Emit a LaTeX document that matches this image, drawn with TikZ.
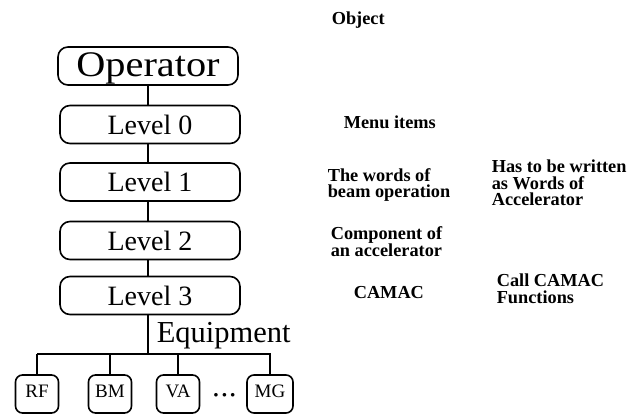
\documentclass[tikz,border=0pt]{standalone}
\usepackage{fontspec}
\setmainfont{Liberation Serif}
\begin{document}
\begin{tikzpicture}[x=1pt,y=-1pt,
  line width=1.6pt,
  bigbox/.style={draw, rounded corners=10pt, minimum width=180pt, minimum height=38pt, inner sep=0pt, font=\fontsize{28}{28}\selectfont},
  smallbox/.style={draw, rounded corners=7pt, minimum width=43pt, minimum height=38pt, inner sep=0pt, text height=13pt, text depth=6pt, font=\fontsize{19}{19}\selectfont},
  note/.style={anchor=west, align=left, inner sep=0pt, font=\fontsize{18.3}{16.5}\selectfont\bfseries},
  conn/.style={line width=1.6pt}
]
\useasboundingbox (0,0) rectangle (638,414);

\node[bigbox, font=\fontsize{36}{36}\selectfont, text height=27pt, text depth=5pt] (op) at (148,66) {\scalebox{1.12}[1]{Operator}};
\node[bigbox] (l0) at (150,124.5) {Level 0};
\node[bigbox] (l1) at (150,182) {Level 1};
\node[bigbox] (l2) at (150,240.5) {Level 2};
\node[bigbox] (l3) at (150,295.5) {Level 3};

\draw[conn] (op.south -| 148,0) -- (l0.north -| 148,0);
\draw[conn] (l0.south -| 148,0) -- (l1.north -| 148,0);
\draw[conn] (l1.south -| 148,0) -- (l2.north -| 148,0);
\draw[conn] (l2.south -| 148,0) -- (l3.north -| 148,0);

\node[anchor=base west, inner sep=0pt, font=\fontsize{30.5}{30.5}\selectfont] (eq) at (156,343) {Equipment};

\coordinate (bus) at (148,354);
\coordinate (busL) at (37,354);
\coordinate (busR) at (271,354);
\draw[conn] (l3.south -| bus) -- (bus);
\draw[conn] (busL) -- (busR);

\node[smallbox] (rf) at (37,394) {RF};
\node[smallbox] (bm) at (110,394) {BM};
\node[smallbox] (va) at (178,394) {VA};
\node[smallbox, minimum width=46pt] (mg) at (270,394) {MG};
\node[inner sep=0pt, font=\fontsize{22}{22}\selectfont\bfseries] (dots) at (224.5,398) {·\kern1pt·\kern1pt·};

\draw[conn] (rf.north) -- (rf.north |- busL);
\draw[conn] (bm.north) -- (bm.north |- busL);
\draw[conn] (va.north) -- (va.north |- busL);
\draw[conn] (mg.north) -- (mg.north |- busL);

\node[note] (obj) at (331,20) {Object};
\node[note] (menu) at (343,122) {Menu items};
\node[note] (words) at (327,185) {The words of\\beam operation};
\node[note] (has) at (491,183) {Has to be written\\as Words of\\Accelerator};
\node[note] (comp) at (330,241.5) {Component of\\an accelerator};
\node[note] (camac) at (353,293) {CAMAC};
\node[note] (call) at (496,289) {Call CAMAC\\Functions};
\end{tikzpicture}
\end{document}
